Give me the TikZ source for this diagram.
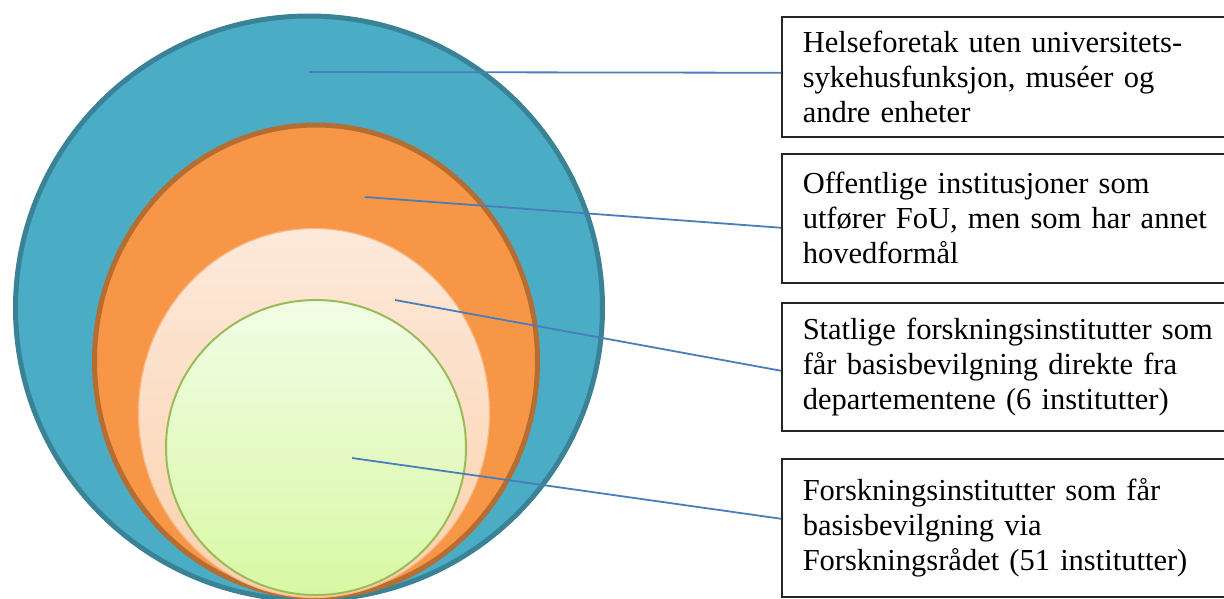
\documentclass[tikz,border=0pt]{standalone}
\usepackage{fontspec}
\setmainfont{Liberation Serif}
\usetikzlibrary{shapes.geometric}
\definecolor{tealfill}{HTML}{4BACC6}
\definecolor{tealline}{HTML}{3A8397}
\definecolor{orangefill}{HTML}{F79646}
\definecolor{orangeline}{HTML}{B66D31}
\definecolor{peachtop}{HTML}{FDE9DA}
\definecolor{peachbottom}{HTML}{FBD2AF}
\definecolor{peachline}{HTML}{F8B987}
\definecolor{greentop}{HTML}{F1FDE6}
\definecolor{greenbottom}{HTML}{D9F8A4}
\definecolor{greenline}{HTML}{9BBB59}
\definecolor{linkblue}{HTML}{4A7EBB}
\def \BoxLeft {781}
\def \BoxText {420pt}
\tikzstyle{ring}=[
  ellipse,
  inner sep=0pt
]
\tikzstyle{infobox}=[
  draw=black!85,
  line width=1.5pt,
  rectangle,
  anchor=north west,
  align=left,
  text width=\BoxText,
  inner xsep=21pt,
  inner ysep=0pt,
  font=\fontsize{30.5}{35}\selectfont
]
\tikzstyle{link}=[
  draw=linkblue,
  line width=1.8pt
]

\begin{document}
\begin{tikzpicture}[x=1pt, y=-1pt]
  \useasboundingbox (0,0) rectangle (1224,598);

  \node[ring, draw=tealline, fill=tealfill, line width=5pt,
        minimum width=587pt, minimum height=584pt] (outer) at (309,308) {};
  \node[ring, draw=orangeline, fill=orangefill, line width=5pt,
        minimum width=443pt, minimum height=472pt] (public) at (316,361) {};
  \node[ring, draw=peachline, top color=peachtop, bottom color=peachbottom, line width=1.2pt,
        minimum width=351pt, minimum height=369pt] (state) at (314,413) {};
  \node[ring, draw=greenline, top color=greentop, bottom color=greenbottom, line width=2pt,
        minimum width=300pt, minimum height=295pt] (council) at (316,447.5) {};

  \coordinate (p1) at (309,72);
  \coordinate (p2) at (365,197);
  \coordinate (p3) at (395,300);
  \coordinate (p4) at (352,458);

  \node[infobox, minimum height=120pt] (box1) at (\BoxLeft,16)
    {Helseforetak uten universitets-\\sykehusfunksjon, muséer og\\andre enheter};
  \node[infobox, minimum height=129pt] (box2) at (\BoxLeft,153)
    {Offentlige institusjoner som\\utfører FoU, men som har annet\\hovedformål};
  \node[infobox, minimum height=128pt] (box3) at (\BoxLeft,302)
    {Statlige forskningsinstitutter som\\får basisbevilgning direkte fra\\departementene (6 institutter)};
  \node[infobox, minimum height=138pt] (box4) at (\BoxLeft,458)
    {Forskningsinstitutter som får\\basisbevilgning via\\Forskningsrådet (51 institutter)};

  \foreach \i/\dy in {1/4,2/-9.5,3/-4,4/9}{
    \draw[link] (p\i) -- ([yshift=\dy pt]box\i.west);
  }
\end{tikzpicture}
\end{document}
